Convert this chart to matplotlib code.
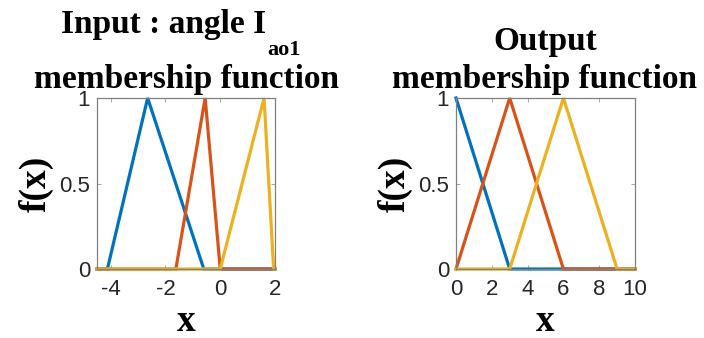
import matplotlib
matplotlib.use("Agg")
import matplotlib.pyplot as plt

# membership functions drawn as polylines (x vertices, y vertices)
# input: angle I_ao1, range [-4.5, 2]
in_xlim = [-4.5, 2]
in_mf1_x = [-4.5, -4.12, -2.65, -0.6, 2]
in_mf1_y = [0, 0, 1, 0, 0]
in_mf2_x = [-4.5, -1.62, -0.55, 0.0, 2]
in_mf2_y = [0, 0, 1, 0, 0]
in_mf3_x = [-4.5, 0.0, 1.6, 1.95, 2]
in_mf3_y = [0, 0, 1, 0, 0]
in_xticks = [-4, -2, 0, 2]

# output, range [0, 10]
out_xlim = [0, 10]
out_mf1_x = [0, 3, 10]
out_mf1_y = [1, 0, 0]
out_mf2_x = [0, 3, 6, 10]
out_mf2_y = [0, 1, 0, 0]
out_mf3_x = [0, 3, 6, 9, 10]
out_mf3_y = [0, 0, 1, 0, 0]
out_xticks = [0, 2, 4, 6, 8, 10]

yticks = [0, 0.5, 1]
ytick_labels = ["0", "0.5", "1"]
colors = ["#0072BD", "#D95319", "#EDB120"]

W, H = 704, 338
fig = plt.figure(figsize=(W / 100, H / 100), dpi=100)

serif = "Liberation Serif"
tick_col = "#262626"


def setup(ax, xlim, xticks):
    ax.set_xlim(xlim)
    ax.set_ylim(0, 1)
    ax.set_xticks(xticks)
    ax.set_xticklabels([str(t) for t in xticks])
    ax.set_yticks(yticks)
    ax.set_yticklabels(ytick_labels)
    ax.tick_params(direction="in", length=3, width=0.6, colors="#9a9a9a",
                   labelcolor=tick_col, labelsize=16, top=True, right=True)
    ax.tick_params(axis="x", pad=7)
    ax.tick_params(axis="y", pad=5)
    for lab in ax.get_xticklabels() + ax.get_yticklabels():
        lab.set_family("Liberation Sans")
    for sp in ax.spines.values():
        sp.set_color("#808080")
        sp.set_linewidth(0.9)
    ax.set_ylabel("f(x)", family=serif, fontweight="bold", fontsize=27,
                  labelpad=4)
    ax.set_xlabel("x", family=serif, fontweight="bold", fontsize=27,
                  labelpad=3)


ax1 = fig.add_axes([97 / W, 1 - 269 / H, 178 / W, 171 / H])
for xs, ys, c in zip([in_mf1_x, in_mf2_x, in_mf3_x],
                     [in_mf1_y, in_mf2_y, in_mf3_y], colors):
    ax1.plot(xs, ys, color=c, lw=2.3, clip_on=False, solid_joinstyle="miter")
setup(ax1, in_xlim, in_xticks)

ax2 = fig.add_axes([456 / W, 1 - 269 / H, 179 / W, 171 / H])
for xs, ys, c in zip([out_mf1_x, out_mf2_x, out_mf3_x],
                     [out_mf1_y, out_mf2_y, out_mf3_y], colors):
    ax2.plot(xs, ys, color=c, lw=2.3, clip_on=False, solid_joinstyle="miter")
setup(ax2, out_xlim, out_xticks)

# titles (two lines, bold serif)
tkw = dict(family=serif, fontweight="bold", fontsize=24, va="baseline")
fig.text(266 / W, 1 - 33 / H, "Input : angle I", ha="right", **tkw)
fig.text(267 / W, 1 - 55 / H, "ao1", ha="left", family=serif,
         fontweight="bold", fontsize=16, va="baseline")
fig.text(187 / W, 1 - 88 / H, "membership function", ha="center", **tkw)
fig.text(545 / W, 1 - 50 / H, "Output", ha="center", **tkw)
fig.text(545 / W, 1 - 88 / H, "membership function", ha="center", **tkw)

fig.savefig("out.png", dpi=100)
